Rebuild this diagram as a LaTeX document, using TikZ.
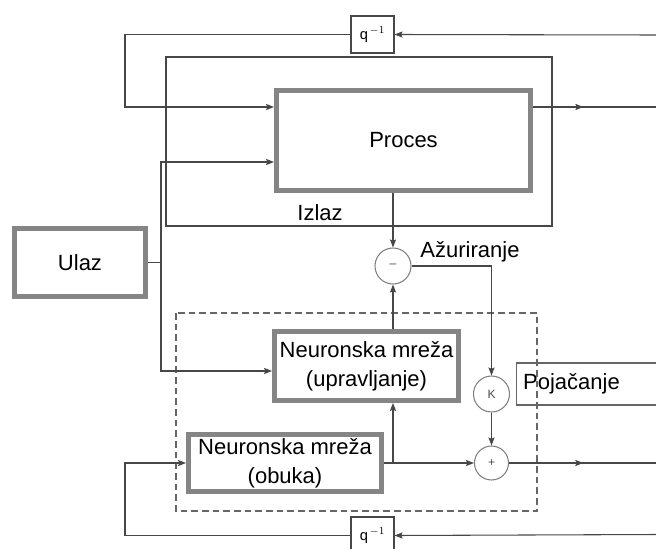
\documentclass[tikz,border=0pt]{standalone}
\usepackage{fontspec}
\setmainfont{Liberation Sans}
\usetikzlibrary{arrows.meta,decorations.markings,calc}
\begin{document}
\begin{tikzpicture}[x=0.75pt,y=-0.75pt,
  line width=0.8pt,
  wire/.style={draw=black!72},
  arr/.style={wire,-{Stealth[length=6pt,width=4.6pt,inset=1pt]}},
  midarrow/.style={wire,postaction={decorate},decoration={markings,
     mark=at position #1 with {\arrow{Stealth[length=6pt,width=4.6pt,inset=1pt]}}}},
  bigtext/.style={font=\fontsize{16.5}{21.75}\selectfont},
  heavybox/.style={draw=black!48,line width=3.7pt,fill=white,inner sep=0pt,
     bigtext,align=center},
  delaybox/.style={draw=black!72,line width=0.8pt,fill=white,inner sep=0pt,
     minimum width=32.25pt,minimum height=27.75pt,font=\fontsize{11}{13}\selectfont},
  junction/.style={circle,draw=black!50,line width=0.8pt,fill=white,inner sep=0pt,
     font=\fontsize{9}{11}\selectfont,text=black!70}
]
\useasboundingbox (0,0) rectangle (656,549);
\clip (0,0) rectangle (656,549);

% loop around the process (plain outline)
\draw[wire] (166,57) rectangle (552,226);

% blocks
\node[heavybox,minimum width=190.5pt,minimum height=75pt] (proc) at (403.5,140.5) {Proces};
\node[heavybox,minimum width=98.25pt,minimum height=51pt] (ulaz) at (80,262.5) {Ulaz};
\node[heavybox,minimum width=138pt,minimum height=51.75pt] (nnu) at (366.5,366) {Neuronska mreža\\(upravljanje)};
\node[heavybox,minimum width=144.75pt,minimum height=42.75pt] (nno) at (285,463) {Neuronska mreža\\(obuka)};

\node[delaybox] (qtop) at (372.5,34.5) {q$^{\,-1}$};
\node[delaybox] (qbot) at (372.5,535.5) {q$^{\,-1}$};

\node[junction,minimum size=27pt] (minus) at (393,266) {--};
\node[junction,minimum size=27pt] (K) at (491.5,394) {K};
\node[junction,minimum size=25.5pt] (plus) at (491.5,463) {+};

\node[draw=black!60,line width=0.8pt,anchor=west,bigtext,minimum height=31.5pt,
      text width=120pt,align=left,inner xsep=5pt] (gain) at (516,384) {Pojačanje};

% training region
\draw[draw=black!60,line width=0.8pt,dash pattern=on 5pt off 3pt] (176,313) rectangle (537,511);

% labels
\node[bigtext] (izlaz) at (320,213) {Izlaz};
\node[bigtext] (azur) at (470,252) {Ažuriranje};

% helper points on the free ends and corners
\coordinate (topR) at (656,35);
\coordinate (fbL) at (125,107);
\coordinate (outR) at (656,107);
\coordinate (split) at (161,262.5);
\coordinate (inP) at (161,162);
\coordinate (inN) at (161,371);
\coordinate (br) at (393,463);
\coordinate (sumR) at (656,463);
\coordinate (botR) at (656,534.5);
\coordinate (fbB) at (125,463);

% upper delay feedback into the process
\draw[arr] (topR) -- (qtop.east);
\draw[arr] (qtop.west) -| (fbL) -- (proc.west |- fbL);
% process output
\draw[midarrow=0.41] (proc.east |- fbL) -- (outR);

% input distribution
\draw[wire] (ulaz.east) -- (split);
\draw[arr] (split) -- (inP) -- (proc.west |- inP);
\draw[arr] (split) -- (inN) -- (nnu.west |- inN);

% error computation and update path
\draw[arr] (proc.south -| minus) -- (minus.north);
\draw[arr] (nnu.north -| minus) -- (minus.south);
\draw[arr] (minus.east) -| (K.north);
\draw[arr] (K.south) -- (plus.north);

% training network output
\draw[arr] (nno.east) -- (plus.west);
\draw[arr] (br) -- (nnu.south -| br);
\draw[midarrow=0.505] (plus.east) -- (sumR);

% lower delay feedback into the training network
\draw[arr] (botR) -- (qbot.east);
\draw[arr] (qbot.west) -| (fbB) -- (nno.west);
\end{tikzpicture}
\end{document}
